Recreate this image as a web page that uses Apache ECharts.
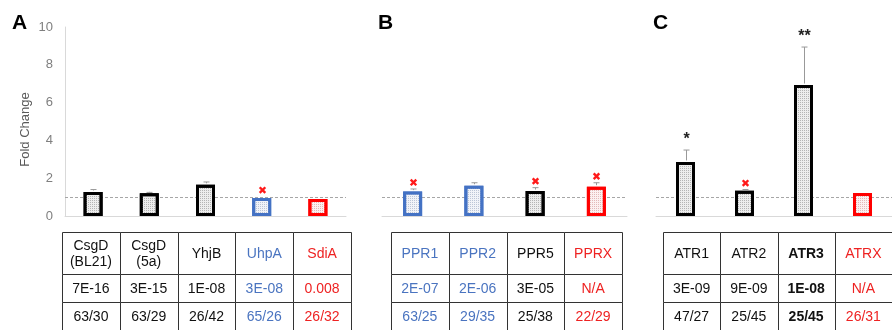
<!DOCTYPE html>
<html><head><meta charset="utf-8">
<script src="https://cdn.jsdelivr.net/npm/echarts@6/dist/echarts.min.js"></script>
<style>html,body{margin:0;padding:0;background:#fff}#c{width:892px;height:330px}</style>
</head><body><div id="c"></div>
<script>
// ---------- data ----------
const yMin = 0, yMax = 10, yStep = 2;
const yName = 'Fold Change';
const refLine = 1;
const panelLetters = ['A', 'B', 'C'];

const catsA   = ['CsgD\n(BL21)', 'CsgD\n(5a)', 'YhjB', 'UhpA', 'SdiA'];
const foldA   = [1.27, 1.2, 1.65, 0.95, 0.9];
const errTopA = [1.4, 1.25, 1.8, null, null];
const markA   = ['', '', '', 'x', ''];
const groupA  = ['k', 'k', 'k', 'b', 'r'];
const pA      = ['7E-16', '3E-15', '1E-08', '3E-08', '0.008'];
const nA      = ['63/30', '63/29', '26/42', '65/26', '26/32'];

const catsB   = ['PPR1', 'PPR2', 'PPR5', 'PPRX'];
const foldB   = [1.29, 1.6, 1.32, 1.55];
const errTopB = [1.43, 1.76, 1.5, 1.76];
const markB   = ['x', '', 'x', 'x'];
const groupB  = ['b', 'b', 'k', 'r'];
const pB      = ['2E-07', '2E-06', '3E-05', 'N/A'];
const nB      = ['63/25', '29/35', '25/38', '22/29'];

const catsC   = ['ATR1', 'ATR2', 'ATR3', 'ATRX'];
const foldC   = [2.86, 1.34, 6.93, 1.22];
const errTopC = [3.49, 1.4, 8.94, null];
const markC   = ['*', 'x', '**', ''];
const groupC  = ['k', 'k', 'kb', 'r'];
const pC      = ['3E-09', '9E-09', '1E-08', 'N/A'];
const nC      = ['47/27', '25/45', '25/45', '26/31'];

// ---------- styles / layout ----------
const FONT = '"Liberation Sans", Arial, sans-serif';
const STY = {
  k:  {border: '#000000', fill: '#ededed', dot: '#b4b4b4', text: '#111111', bold: false},
  kb: {border: '#000000', fill: '#ededed', dot: '#b4b4b4', text: '#111111', bold: true},
  b:  {border: '#4472c4', fill: '#f1f3f8', dot: '#bcc5d6', text: '#4a74c0', bold: false},
  r:  {border: '#ff0000', fill: '#fcf0f0', dot: '#e3b8b8', text: '#ee2222', bold: false}
};
const ROW_EDGES = [0, 1.5, 2.5, 3.5];

const panels = [
  {cats: catsA, fold: foldA, err: errTopA, mark: markA, group: groupA, p: pA, n: nA,
   gLeft: 65, gWidth: 281, tLeft: 62, tWidth: 289, lx: 12, showY: true},
  {cats: catsB, fold: foldB, err: errTopB, mark: markB, group: groupB, p: pB, n: nB,
   gLeft: 382, gWidth: 245, tLeft: 391, tWidth: 231, lx: 378, showY: false},
  {cats: catsC, fold: foldC, err: errTopC, mark: markC, group: groupC, p: pC, n: nC,
   gLeft: 656, gWidth: 245, tLeft: 663, tWidth: 231, lx: 653, showY: false}
];

const grid = [], xAxis = [], yAxis = [], series = [], graphic = [];

panels.forEach((P, i) => {
  grid.push({left: P.gLeft, top: 27, width: P.gWidth, height: 189});
  xAxis.push({type: 'category', gridIndex: i, data: P.cats,
    axisLine: {show: true, lineStyle: {color: '#d9d9d9', width: 1}},
    axisTick: {show: false}, axisLabel: {show: false}, splitLine: {show: false}});
  yAxis.push({type: 'value', gridIndex: i, min: yMin, max: yMax, interval: yStep,
    show: P.showY,
    name: P.showY ? yName : '', nameLocation: 'middle', nameGap: 33,
    nameTextStyle: {color: '#595959', fontSize: 13, fontFamily: FONT, padding: [0, 16, 0, 0]},
    axisLine: {show: true, lineStyle: {color: '#d9d9d9'}},
    axisTick: {show: false},
    axisLabel: {color: '#7f7f7f', fontSize: 13, fontFamily: FONT, margin: 12},
    splitLine: {show: false}});

  series.push({
    type: 'bar', xAxisIndex: i, yAxisIndex: i, barWidth: 19, z: 3,
    data: P.fold.map((v, j) => {
      const s = STY[P.group[j]];
      return {value: v, itemStyle: {color: s.fill, borderColor: s.border, borderWidth: 3,
        decal: {symbol: 'rect', symbolSize: 1, dashArrayX: [1, 1], dashArrayY: [1, 1], color: s.dot}}};
    }),
    markLine: {silent: true, symbol: 'none', z: 1, label: {show: false},
      lineStyle: {color: '#a6a6a6', type: [3, 2], width: 1},
      data: [{yAxis: refLine}]}
  });

  series.push({
    type: 'custom', xAxisIndex: i, yAxisIndex: i, z: 4,
    data: P.fold.map((v, j) => [j, v, P.err[j] == null ? v : P.err[j]]),
    renderItem: (params, api) => {
      const j = params.dataIndex;
      const base = api.coord([j, api.value(1)]);
      const top = api.coord([j, api.value(2)]);
      const cx = Math.round(base[0]) + 0.5;
      const kids = [];
      if (P.err[j] != null) {
        kids.push({type: 'line', shape: {x1: cx, y1: base[1] - 1.5, x2: cx, y2: top[1]},
          style: {stroke: '#999', lineWidth: 1}});
        kids.push({type: 'line', shape: {x1: cx - 3, y1: top[1], x2: cx + 3, y2: top[1]},
          style: {stroke: '#999', lineWidth: 1}});
      }
      const m = P.mark[j];
      const ay = top[1] - (P.err[j] == null ? 1.5 : 0);
      if (m === 'x') {
        const yy = ay - 6.5, h = 2.8;
        kids.push({type: 'line', shape: {x1: cx - h, y1: yy - h, x2: cx + h, y2: yy + h},
          style: {stroke: '#ff1a1a', lineWidth: 2.4}});
        kids.push({type: 'line', shape: {x1: cx - h, y1: yy + h, x2: cx + h, y2: yy - h},
          style: {stroke: '#ff1a1a', lineWidth: 2.4}});
      } else if (m) {
        kids.push({type: 'text', x: cx, y: ay - 10,
          style: {text: m, align: 'center', verticalAlign: 'middle', fill: '#222',
            fontSize: 16, fontWeight: 'bold', fontFamily: FONT}});
      }
      return {type: 'group', children: kids};
    }
  });
});

panels.forEach((P, i) => {
  const gi = 3 + i;
  grid.push({left: P.tLeft, top: 232, width: P.tWidth, height: 99});
  xAxis.push({type: 'category', gridIndex: gi, data: P.cats, show: false});
  yAxis.push({type: 'value', gridIndex: gi, min: ROW_EDGES[0], max: ROW_EDGES[3], inverse: true, show: false});
  const cells = [], texts = [];
  P.cats.forEach((c, j) => {
    [c, P.p[j], P.n[j]].forEach((t, r) => { cells.push([j, r]); texts.push(t); });
  });
  series.push({
    type: 'custom', xAxisIndex: gi, yAxisIndex: gi, data: cells,
    renderItem: (params, api) => {
      const j = api.value(0), r = api.value(1);
      const w = api.size([1, 0])[0];
      const cx = api.coord([j, 0])[0];
      const y0 = Math.round(api.coord([j, ROW_EDGES[r]])[1]);
      const y1 = Math.round(api.coord([j, ROW_EDGES[r + 1]])[1]);
      const x0 = Math.round(cx - w / 2), x1 = Math.round(cx + w / 2);
      const s = STY[P.group[j]];
      return {type: 'group', children: [
        {type: 'rect', shape: {x: x0 + 0.5, y: y0 + 0.5, width: x1 - x0, height: y1 - y0},
          style: {fill: '#fff', stroke: '#333', lineWidth: 1}},
        {type: 'text', x: cx, y: (y0 + y1) / 2 + 1,
          style: {text: texts[params.dataIndex], align: 'center', verticalAlign: 'middle',
            fill: s.text, fontSize: 14, lineHeight: 16, fontFamily: FONT,
            fontWeight: s.bold ? 'bold' : 'normal'}}
      ]};
    }
  });
  graphic.push({type: 'text', left: P.lx, top: 13,
    style: {text: panelLetters[i], fill: '#000', font: 'bold 21px ' + FONT}});
});

const chart = echarts.init(document.getElementById('c'), null, {renderer: 'canvas'});
chart.setOption({animation: false, backgroundColor: '#fff', grid, xAxis, yAxis, series, graphic});
</script></body></html>
